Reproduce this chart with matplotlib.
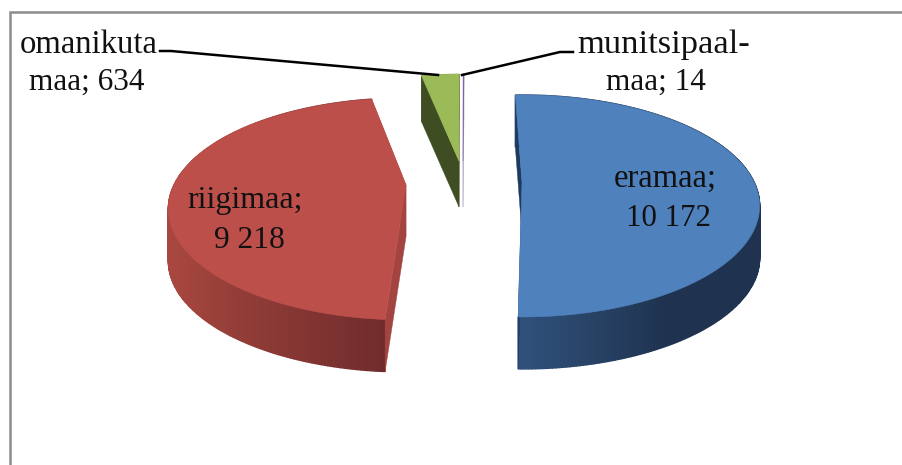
import matplotlib
matplotlib.use("Agg")
import matplotlib.pyplot as plt
from matplotlib.colors import to_rgb
from matplotlib.patches import Polygon
import numpy as np

# land ownership, clockwise from the top of the pie
names  = ["eramaa", "riigimaa", "omanikuta maa", "munitsipaalmaa"]
values = [10172, 9218, 634, 14]

label_lines = [["eramaa;", "{}"], ["riigimaa;", "{}"], ["omanikuta", "maa; {}"], ["munitsipaal-", "maa; {}"]]
label_pos   = [[(665, 187), (669, 226)], [(245, 208), (249, 248)], [(89, 53), (87, 90)], [(664, 53), (656, 90)]]
label_size  = [(23.5, 22.2), (23, 22.7), (23.5, 22.5), (24.8, 22.5)]

# drawing styles per slice
FACE   = ["#4f81bd", "#bd4f4b", "#9bbb59", "#8064a2"]
CUT    = ["#1f3a5f", "#a34441", "#3f4d22", "#b9aecb"]
WALL_A = ["#30507a", "#a8473f", "#3f4d22", "#8064a2"]   # colour at wall_u[0]
WALL_B = ["#1f3350", "#6b2a2a", "#3f4d22", "#8064a2"]   # colour at wall_u[1]
WALL_U = [(0.0, 0.5), (-0.9, 0.0), (-1, 0), (-1, 0)]
APEX   = [(522, 182), (406, 185), (459, 161), (463, 161)]
DEPTH  = [52, 52, 46, 46]
NUDGE  = [0.0, 3.3, 2.3, 2.3]   # small turn of each exploded slice, degrees

START  = -2.0
R_X, R_Y, PERSP = 232, 105.8, 0.216


def project(theta, apex):
    # pie angle (clockwise from far side) to picture pixels, near side is bigger
    t = np.deg2rad(theta)
    s = 1 / (1 + PERSP * np.cos(t))
    return apex[0] + R_X * np.sin(t) * s, apex[1] - R_Y * np.cos(t) * s


def wall_color(u, i):
    w = np.clip((u - WALL_U[i][0]) / (WALL_U[i][1] - WALL_U[i][0]), 0, 1)
    return tuple(a + (b - a) * w for a, b in zip(to_rgb(WALL_A[i]), to_rgb(WALL_B[i])))


fig = plt.figure(figsize=(9.02, 4.65), dpi=100, facecolor="white")
ax = fig.add_axes([0, 0, 1, 1])
ax.set_xlim(0, 902)
ax.set_ylim(465, 0)
ax.axis("off")

# chart frame, runs off the right and bottom of the crop
ax.plot([10, 10, 902], [465, 12, 12], color="#8c8c8c", lw=1.8, solid_capstyle="butt", solid_joinstyle="miter")

angles = START + np.cumsum([0] + values) / sum(values) * 360

for i in range(len(values)):
    a0, a1 = angles[i] + NUDGE[i], angles[i + 1] + NUDGE[i]
    apex, d = APEX[i], DEPTH[i]
    thetas = np.linspace(a0, a1, max(3, int((a1 - a0) * 1.5)))
    xs, ys = project(thetas, apex)
    wall_lw = 1.0 if a1 - a0 > 30 else 0.1   # thick seams would swamp the tiny slices

    # outer wall as thin strips so the shading can change along it
    for j in range(len(thetas) - 1):
        col = wall_color(np.sin(np.deg2rad((thetas[j] + thetas[j + 1]) / 2)), i)
        quad = [(xs[j], ys[j]), (xs[j + 1], ys[j + 1]), (xs[j + 1], ys[j + 1] + d), (xs[j], ys[j] + d)]
        ax.add_patch(Polygon(quad, facecolor=col, edgecolor=col, lw=wall_lw, zorder=2))

    # the two cut faces
    for k in (0, -1):
        quad = [(xs[k], ys[k]), apex, (apex[0], apex[1] + d), (xs[k], ys[k] + d)]
        ax.add_patch(Polygon(quad, facecolor=CUT[i], edgecolor=CUT[i], lw=0.3, zorder=3))

    # top face
    top = [apex] + list(zip(xs, ys))
    ax.add_patch(Polygon(top, facecolor=FACE[i], edgecolor=FACE[i], lw=0.4, zorder=4))

# leader lines
ax.plot([160, 171, 438], [51, 51, 75], color="black", lw=1.8, zorder=5)
ax.plot([573, 560, 462], [52, 52, 75], color="black", lw=1.8, zorder=5)

for i, val in enumerate(values):
    val_txt = f"{val:,}".replace(",", " ")
    for line, (x, y), size in zip(label_lines[i], label_pos[i], label_size[i]):
        ax.text(x, y, line.format(val_txt), family="Liberation Serif", fontsize=size,
                color="#111111", ha="center", va="baseline", zorder=6)

fig.savefig("out.png", dpi=100, facecolor="white")
